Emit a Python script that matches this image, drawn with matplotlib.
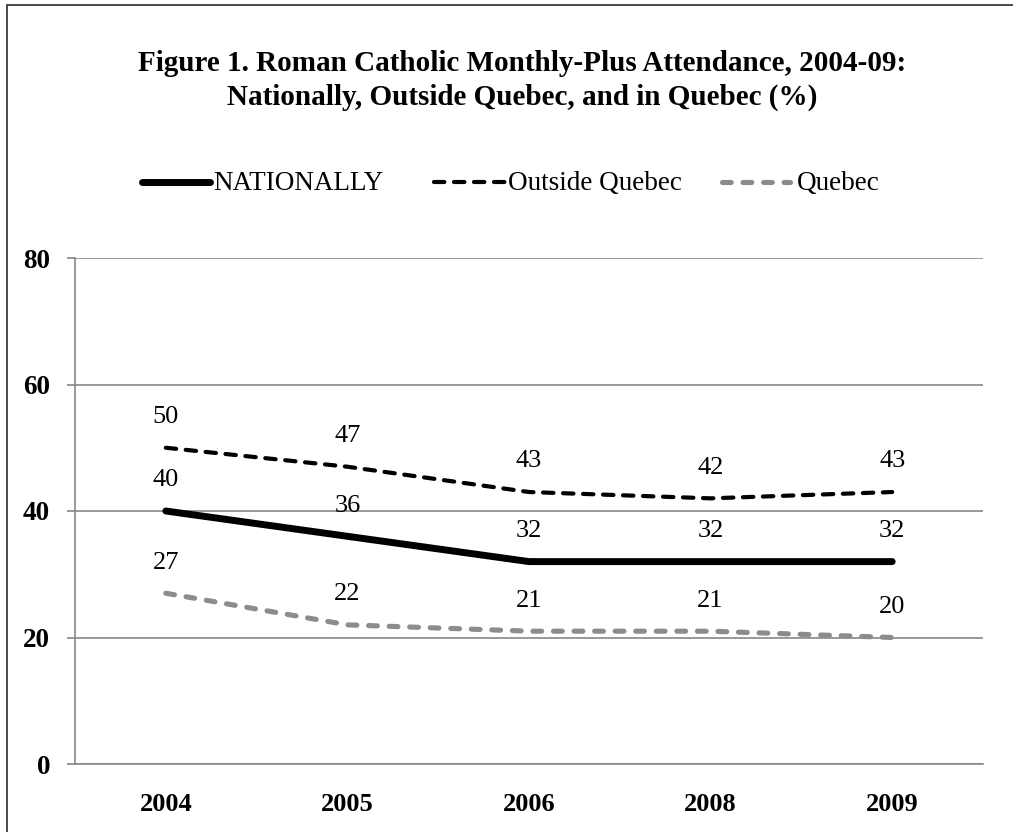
import matplotlib
matplotlib.use("Agg")
import matplotlib.pyplot as plt
from matplotlib.patches import Rectangle
from matplotlib.lines import Line2D

years = ["2004", "2005", "2006", "2008", "2009"]
nationally = [40, 36, 32, 32, 32]
outside_quebec = [50, 47, 43, 42, 43]
quebec = [27, 22, 21, 21, 20]
series_names = ["NATIONALLY", "Outside Quebec", "Quebec"]
yticks = [0, 20, 40, 60, 80]
title = ("Figure 1. Roman Catholic Monthly-Plus Attendance, 2004-09:\n"
         "Nationally, Outside Quebec, and in Quebec (%)")

plt.rcParams['font.family'] = ['Liberation Serif', 'DejaVu Serif']

W, H = 1013, 832
fig = plt.figure(figsize=(W / 100, H / 100), dpi=100)
fig.patch.set_facecolor('white')

# outer frame (left and top visible)
fig.add_artist(Rectangle((7 / W, -0.1), 1.2, 0.1 + (H - 4.5) / H, transform=fig.transFigure,
                         fill=False, edgecolor='#3a3a3a', linewidth=1.3))

ax = fig.add_axes([75 / W, (H - 764) / H, (983 - 75) / W, (764 - 258) / H])
x = list(range(len(years)))

grey_axis = '#878787'
styles = [
    dict(data=nationally, color='black', lw=5.0, dashes=None),
    dict(data=outside_quebec, color='black', lw=3.0, dashes=(2.5, 2.3)),
    dict(data=quebec, color='#8c8c8c', lw=3.7, dashes=(1.7, 2.3)),
]

def line_kw(st):
    kw = dict(color=st['color'], linewidth=st['lw'], solid_capstyle='round',
              dash_capstyle='round', solid_joinstyle='round')
    kw['linestyle'] = '-' if st['dashes'] is None else (0, st['dashes'])
    return kw

for name, st in zip(series_names, styles):
    line, = ax.plot(x, st['data'], **line_kw(st))
    line.set_clip_on(False)
    for xi, v in zip(x, st['data']):
        ax.annotate(str(v), (xi, v), xytext=(0, 22), textcoords='offset points',
                    ha='center', va='center', fontsize=19, color='black')

ax.set_xlim(-0.5, len(years) - 0.5)
ax.set_ylim(0, 80)
ax.set_yticks(yticks)
ax.set_yticklabels([str(t) for t in yticks], fontsize=19.5, fontweight='bold')
ax.set_xticks(x)
ax.set_xticklabels(years, fontsize=19, fontweight='bold')
ax.tick_params(axis='x', length=0, pad=21)
ax.tick_params(axis='y', length=6, width=1.2, color=grey_axis, pad=12)
ax.grid(axis='y', color=grey_axis, linewidth=1.2)
ax.set_axisbelow(True)
for s in ['top', 'right']:
    ax.spines[s].set_visible(False)
for s in ['left', 'bottom']:
    ax.spines[s].set_color(grey_axis)
    ax.spines[s].set_linewidth(1.2)

fig.text(522 / W, 1 - 80.5 / H, title, ha='center', va='center', fontsize=21,
         fontweight='bold', linespacing=1.3)

# manual legend (Excel style, fixed entry slots)
leg_y = 1 - 182 / H
leg_slots = [(142, 210, 213), (434, 505, 508), (722, 790, 797)]
for name, st, (x0, x1, xt) in zip(series_names, styles, leg_slots):
    fig.add_artist(Line2D([x0 / W, x1 / W], [leg_y, leg_y], transform=fig.transFigure,
                          **line_kw(st)))
    fig.text(xt / W, leg_y - 2 / H, name, ha='left', va='center', fontsize=19.5)

fig.savefig("out.png", dpi=100, facecolor='white')
